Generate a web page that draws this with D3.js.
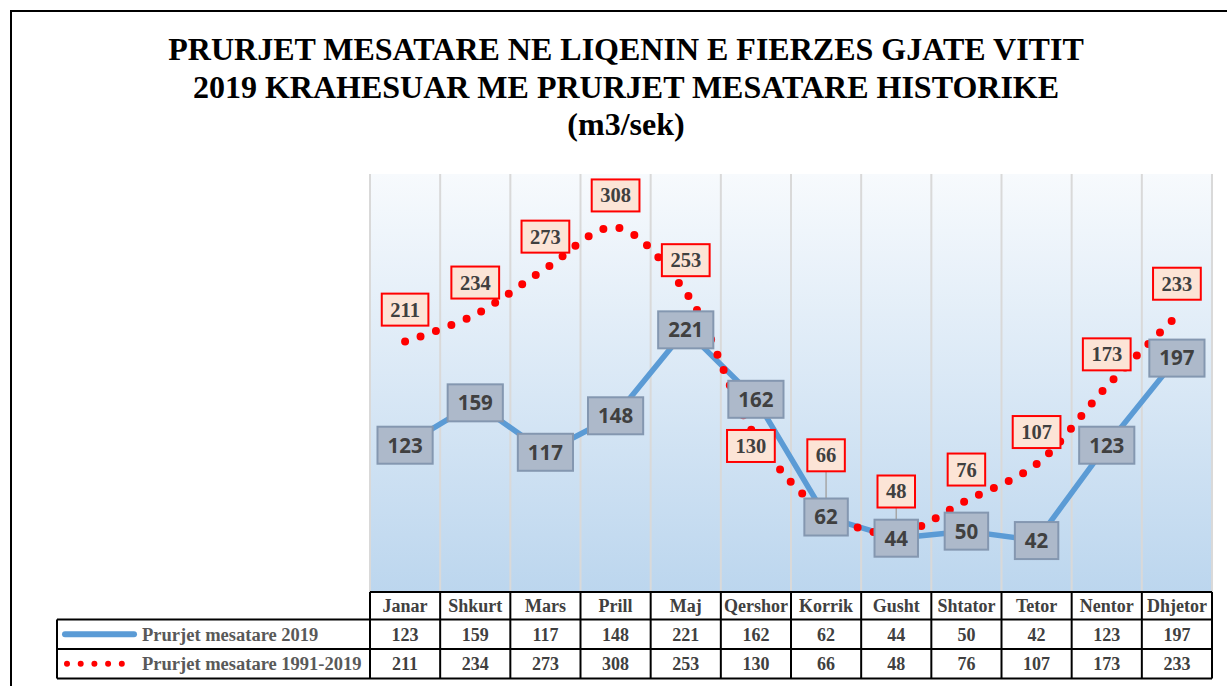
<!DOCTYPE html>
<meta charset="utf-8">
<style>
body { margin: 0; background: #fff; }
svg text { font-family: "Liberation Serif", "Times New Roman", serif; font-weight: bold; }
.blue-lbl text { font-family: "Open Sans", sans-serif; }
</style>
<body>
<svg width="1227" height="686"></svg>
<script src="https://d3js.org/d3.v7.min.js"></script>
<script>
// chart data
var months = ["Janar", "Shkurt", "Mars", "Prill", "Maj", "Qershor", "Korrik", "Gusht", "Shtator", "Tetor", "Nentor", "Dhjetor"];
var flow2019 = [123, 159, 117, 148, 221, 162, 62, 44, 50, 42, 123, 197];
var flowHist = [211, 234, 273, 308, 253, 130, 66, 48, 76, 107, 173, 233];
var seriesNames = ["Prurjet mesatare 2019", "Prurjet mesatare 1991-2019"];
var titleLines = ["PRURJET MESATARE NE LIQENIN E FIERZES GJATE VITIT", "2019 KRAHESUAR ME PRURJET MESATARE HISTORIKE", "(m3/sek)"];

// label nudges for the historic series (dx, dy from the point), moved by hand in the original
var histShift = [[0,-32],[0,-32],[0,-32],[0,-32],[0,-32],[-5,9],[0,-57],[0,-42],[0,-31],[0,-32],[0,-32],[0,-32]];

var svg = d3.select("svg");
var plotL = 370, plotR = 1212, plotT = 174, plotB = 592;

// frame
svg.append("rect").attr("x", 11).attr("y", 11).attr("width", 1240).attr("height", 700)
  .attr("fill", "none").attr("stroke", "#000").attr("stroke-width", 2);

// title
svg.selectAll(".title").data(titleLines).enter().append("text")
  .attr("x", 626).attr("y", function(d, i) { return 60 + i * 37.5; })
  .attr("text-anchor", "middle").attr("font-size", 32).attr("fill", "#000")
  .text(function(d) { return d; });

var x = d3.scaleBand().domain(months).range([plotL, plotR]);
var cx = function(m) { return x(m) + x.bandwidth() / 2; };
var y = d3.scaleLinear().domain([0, 350]).range([590, 178]);

// plot background
var grad = svg.append("defs").append("linearGradient").attr("id", "bg")
  .attr("x1", 0).attr("y1", 0).attr("x2", 0).attr("y2", 1);
grad.append("stop").attr("offset", "0%").attr("stop-color", "#f7fafd");
grad.append("stop").attr("offset", "100%").attr("stop-color", "#bcd6ee");
svg.append("rect").attr("x", plotL).attr("y", plotT).attr("width", plotR - plotL).attr("height", plotB - plotT)
  .attr("fill", "url(#bg)");

// vertical grid at category boundaries
var bounds = months.map(function(m) { return x(m); }).concat([plotR]);
svg.selectAll(".grid").data(bounds).enter().append("line")
  .attr("x1", function(d) { return d; }).attr("x2", function(d) { return d; })
  .attr("y1", plotT).attr("y2", plotB)
  .attr("stroke", "#d9d9d9").attr("stroke-width", 2);

var pts2019 = months.map(function(m, i) { return [cx(m), y(flow2019[i])]; });
var ptsHist = months.map(function(m, i) { return [cx(m), y(flowHist[i])]; });

svg.append("path").attr("d", d3.line()(pts2019))
  .attr("fill", "none").attr("stroke", "#5b9bd5").attr("stroke-width", 5.5).attr("stroke-linejoin", "round");

svg.append("path").attr("d", d3.line().curve(d3.curveCatmullRom)(ptsHist))
  .attr("fill", "none").attr("stroke", "#ff0000").attr("stroke-width", 8)
  .attr("stroke-linecap", "round").attr("stroke-dasharray", "0 16.4");

// leader lines for labels pulled away from their points
ptsHist.forEach(function(p, i) {
  var s = histShift[i];
  if (s[1] < -40) {
    svg.append("line").attr("x1", p[0] + s[0]).attr("x2", p[0])
      .attr("y1", p[1] + s[1] + 16).attr("y2", p[1])
      .attr("stroke", "#a6a6a6").attr("stroke-width", 1.5);
  }
});

// 2019 labels (centred on points)
var bl = svg.selectAll(".blue-lbl").data(flow2019).enter().append("g").attr("class", "blue-lbl")
  .attr("transform", function(d, i) { return "translate(" + pts2019[i][0] + "," + pts2019[i][1] + ")"; });
bl.append("rect");
bl.append("text").attr("text-anchor", "middle").attr("dy", "0.36em")
  .attr("font-size", 20.5).attr("fill", "#404040").text(function(d) { return d; });
bl.each(function() {
  var g = d3.select(this), w = g.select("text").node().getComputedTextLength() + 20;
  g.select("rect").attr("x", -w / 2).attr("y", -18.5).attr("width", w).attr("height", 37)
    .attr("fill", "#adb9ca").attr("stroke", "#8497b0").attr("stroke-width", 2);
});

// historic labels
var rl = svg.selectAll(".red-lbl").data(flowHist).enter().append("g").attr("class", "red-lbl")
  .attr("transform", function(d, i) {
    return "translate(" + (ptsHist[i][0] + histShift[i][0]) + "," + (ptsHist[i][1] + histShift[i][1]) + ")";
  });
rl.append("rect");
rl.append("text").attr("text-anchor", "middle").attr("dy", "0.34em")
  .attr("font-size", 20.5).attr("fill", "#404040").text(function(d) { return d; });
rl.each(function() {
  var g = d3.select(this), w = g.select("text").node().getComputedTextLength() + 17;
  g.select("rect").attr("x", -w / 2).attr("y", -16).attr("width", w).attr("height", 32)
    .attr("fill", "#fce4d6").attr("stroke", "#ff0000").attr("stroke-width", 2);
});

// data table
var rowY = [592, 619.5, 649, 678.5];
var legL = 57;
var tbl = svg.append("g");
function hline(x1, x2, yy) {
  tbl.append("line").attr("x1", x1).attr("x2", x2).attr("y1", yy).attr("y2", yy)
    .attr("stroke", "#000").attr("stroke-width", 2);
}
function vline(xx, y1, y2) {
  tbl.append("line").attr("x1", xx).attr("x2", xx).attr("y1", y1).attr("y2", y2)
    .attr("stroke", "#000").attr("stroke-width", 2);
}
hline(plotL, plotR, rowY[0]);
hline(legL, plotR, rowY[1]);
hline(legL, plotR, rowY[2]);
hline(legL, plotR, rowY[3]);
bounds.forEach(function(b) { vline(b, rowY[0], rowY[3]); });
vline(legL, rowY[1], rowY[3]);

tbl.selectAll(".cat").data(months).enter().append("text")
  .attr("x", cx).attr("y", (rowY[0] + rowY[1]) / 2).attr("dy", "0.35em")
  .attr("text-anchor", "middle").attr("font-size", 18).attr("fill", "#404040")
  .text(function(d) { return d; });

[flow2019, flowHist].forEach(function(vals, r) {
  tbl.selectAll(".v" + r).data(vals).enter().append("text")
    .attr("x", function(d, i) { return cx(months[i]); })
    .attr("y", (rowY[r + 1] + rowY[r + 2]) / 2).attr("dy", "0.35em")
    .attr("text-anchor", "middle").attr("font-size", 18).attr("fill", "#404040")
    .text(function(d) { return d; });
  tbl.append("text").attr("x", 142).attr("y", (rowY[r + 1] + rowY[r + 2]) / 2).attr("dy", "0.35em")
    .attr("font-size", 18.5).attr("fill", "#595959").text(seriesNames[r]);
});

// legend keys
var k1 = (rowY[1] + rowY[2]) / 2, k2 = (rowY[2] + rowY[3]) / 2;
tbl.append("line").attr("x1", 65).attr("x2", 134).attr("y1", k1).attr("y2", k1)
  .attr("stroke", "#5b9bd5").attr("stroke-width", 6).attr("stroke-linecap", "round");
tbl.append("line").attr("x1", 67).attr("x2", 125).attr("y1", k2).attr("y2", k2)
  .attr("stroke", "#ff0000").attr("stroke-width", 6).attr("stroke-linecap", "round")
  .attr("stroke-dasharray", "0 13.7");
</script>
</body>
